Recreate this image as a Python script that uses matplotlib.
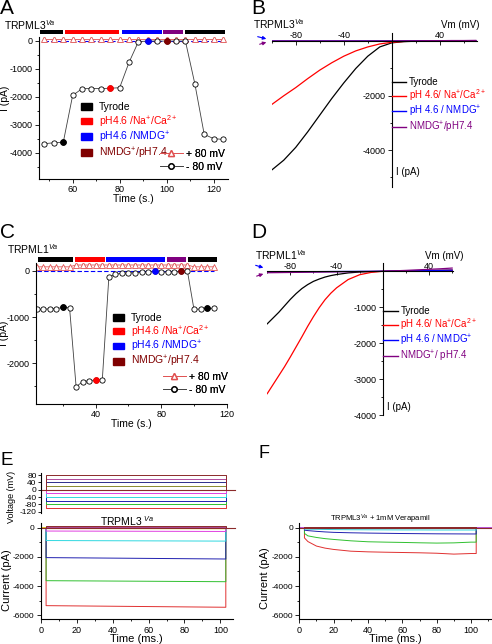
import numpy as np
import matplotlib
matplotlib.use('Agg')
import matplotlib.pyplot as plt
from matplotlib.patches import Patch, FancyArrowPatch
from matplotlib.lines import Line2D
from matplotlib.ticker import MultipleLocator, FixedLocator

plt.rcParams['font.family'] = ['Liberation Sans', 'DejaVu Sans']
plt.rcParams['mathtext.fontset'] = 'custom'
plt.rcParams['mathtext.rm'] = 'Liberation Sans'
plt.rcParams['mathtext.it'] = 'Liberation Sans:italic'
plt.rcParams['axes.linewidth'] = 0.8
plt.rcParams['axes.unicode_minus'] = False

# ---------------- data ----------------
# solutions (legend of A and C)
sol_labels = ['Tyrode', r'pH4.6 /Na$^{+}$/Ca$^{2+}$', r'pH4.6 /NMDG$^{+}$', r'NMDG$^{+}$/pH7.4']
sol_colors = ['black', 'red', 'blue', '#800000']
bar_colors = ['black', 'red', 'blue', '#800080', 'black']

# A: TRPML3 Va time course
t_A = [48, 52, 56, 60, 64, 68, 72, 76, 80, 84, 88, 92, 96, 100, 104, 108, 112, 116, 120, 124]
neg80_A = [-3680, -3645, -3630, -1955, -1715, -1710, -1710, -1700, -1680, -775, -35, -15,
           -15, -15, -15, -15, -1535, -3345, -3500, -3525]
pos80_A = [60, 60, 60, 60, 60, 60, 60, 60, 60, 60, 60, 60, 60, 60, 60, 60, 60, 60, 60, 60]
dots_t_A = [56, 76, 92, 100]
dots_c_A = ['black', 'red', 'blue', '#800000']
bars_A = [(46, 56), (56.7, 79.7), (80.8, 98.1), (98.6, 107.1), (107.8, 125)]

# C: TRPML1 Va time course
t_C = [4, 8, 12, 16, 20, 24, 28, 32, 36, 40, 44, 48, 52, 56, 60, 64, 68, 72, 76, 80,
       84, 88, 92, 96, 100, 104, 108, 112]
neg80_C = [-830, -830, -816, -816, -787, -794, -2505, -2397, -2375, -2361, -2361, -137,
           -72, -50, -43, -36, -29, -22, -7, -22, -22, -14, -7, 0, -830, -823, -808, -808]
pos80_C = [90, 90, 90, 90, 90, 90, 130, 130, 130, 130, 130, 130, 130, 130, 130, 130, 130,
           130, 130, 130, 130, 130, 130, 130, 90, 90, 90, 90]
dots_t_C = [20, 40, 76, 92, 108]
dots_c_C = ['black', 'red', 'blue', '#800000', 'black']
bars_C = [(4.6, 26.3), (27.4, 45.7), (46.3, 82.3), (83.4, 95), (96.6, 113.9)]

# B: TRPML3 Va I-V
iv_labels_B = ['Tyrode', r'pH 4.6/ Na$^{+}$/Ca$^{2+}$', r'pH 4.6 / NMDG$^{+}$', r'NMDG$^{+}$/pH7.4']
iv_colors = ['black', 'red', 'blue', '#800080']
V_B = [-100, -90, -80, -70, -60, -50, -40, -30, -20, -10, 0, 10, 20, 30, 40, 50, 60, 70]
tyr_B = [-4730, -4370, -3900, -3330, -2720, -2110, -1540, -1010, -560, -220, -70, -25, -10,
         0, 0, 0, 0, 0]
ph_B = [-2330, -2010, -1710, -1380, -1070, -800, -560, -365, -220, -110, -50, -20, -5,
        0, 0, 0, 0, 0]
nmdg_B = [0, 0, 0, 0, 0, 0, 0, 0, 0, 0, 0, 0, 0, 5, 5, 10, 10, 10]
ph74_B = [0, 0, 0, 0, 0, 0, 0, 0, 0, 0, 0, 5, 5, 10, 10, 15, 15, 20]

# D: TRPML1 Va I-V
iv_labels_D = ['Tyrode', r'pH 4.6/ Na$^{+}$/Ca$^{2+}$', r'pH 4.6 / NMDG$^{+}$', r'NMDG$^{+}$/ pH7.4']
V_D = [-100, -95, -90, -85, -80, -75, -70, -65, -60, -55, -50, -45, -40, -30, -20, -10,
       0, 10, 20, 30, 40, 50, 60]
tyr_D = [-1460, -1300, -1140, -960, -780, -620, -480, -370, -280, -215, -160, -120, -90,
         -45, -20, -8, 0, 5, 10, 15, 20, 25, 30]
ph_D = [-3400, -3150, -2900, -2650, -2380, -2100, -1820, -1530, -1260, -1010, -790, -610,
        -460, -230, -95, -30, 0, 5, 10, 15, 20, 25, 30]
nmdg_D = [-20, -20, -20, -18, -16, -15, -14, -12, -10, -9, -8, -7, -6, -4, -2, -1, 0, 5,
          10, 15, 20, 25, 30]
ph74_D = [-40, -38, -36, -34, -32, -30, -28, -26, -24, -22, -20, -18, -16, -12, -8, -4,
          0, 12, 25, 40, 55, 70, 90]

# E / F: voltage steps and current traces
V_steps = [80, 60, 40, 20, 0, -20, -40, -60, -80, -100]
trace_colors = ['#8b2a2a', '#b04a9a', '#2e2e8a', '#8a8a2e', '#e6e600', '#e040e0',
                '#30d8e0', '#2020b0', '#30c030', '#e03030']
step_on, step_off = 3, 103
I_E_start = [100, 70, 40, 15, -60, -230, -880, -2050, -3630, -5340]
I_E_end = [100, 70, 40, 15, -70, -260, -920, -2145, -3700, -5450]

t_F = [3, 5, 10, 15, 20, 30, 40, 50, 60, 70, 80, 90, 100, 103]
I_F = [
    [60, 60, 60, 60, 60, 60, 60, 60, 60, 60, 60, 60, 60, 60],
    [40, 40, 40, 40, 40, 40, 40, 40, 40, 40, 40, 40, 40, 40],
    [20, 20, 20, 20, 20, 20, 20, 20, 20, 20, 20, 20, 20, 20],
    [0, 0, 0, 0, 0, 0, 0, 0, 0, 0, 0, 0, 0, 0],
    [-20, -20, -20, -20, -20, -20, -20, -20, -20, -20, -20, -20, -20, -20],
    [-40, -40, -45, -45, -50, -50, -50, -55, -55, -55, -55, -55, -55, -55],
    [-100, -105, -110, -120, -130, -140, -145, -150, -155, -155, -160, -160, -160, -160],
    [-170, -200, -250, -290, -320, -350, -370, -385, -400, -410, -420, -425, -430, -430],
    [-390, -560, -670, -750, -805, -900, -965, -990, -1010, -1035, -1055, -1040, -990, -990],
    [-700, -950, -1260, -1400, -1490, -1610, -1655, -1680, -1700, -1720, -1750, -1810, -1770, -1770],
]

# ---------------- layout ----------------
W, H = 492, 644
fig = plt.figure(figsize=(W / 100, H / 100), dpi=100)


def fx(x):
    return x / W


def fy(y):
    return 1 - y / H


def px_axes(l, t, r, b):
    return fig.add_axes([fx(l), fy(b), (r - l) / W, (b - t) / H])


def style_ticks(ax, size=6.5):
    ax.tick_params(which='major', length=3, width=0.6, labelsize=size, pad=1.5)
    ax.tick_params(which='minor', length=1.6, width=0.6)


def vlabel(x, y, s, size):
    fig.text(fx(x), fy(y), s, fontsize=size, rotation=90, ha='center', va='center')


def time_course(ax, t, neg, pos, dots_t, dots_c, bars, bar_y):
    ax.spines['top'].set_visible(False)
    ax.spines['right'].set_visible(False)
    ax.plot(t, np.zeros(len(t)), color='blue', lw=0.8, dashes=(4, 2))
    ax.plot(t, pos, color='#e05050', lw=0.6, marker='^', ms=4, mfc='white',
            mec='#e05050', mew=0.6)
    ax.plot(t, neg, color='#404040', lw=0.6, marker='o', ms=3.8, mfc='white',
            mec='black', mew=0.6)
    for tt, c in zip(dots_t, dots_c):
        ax.plot(tt, neg[t.index(tt)], marker='o', ms=3.8, color=c, mec=c)
    for (a, b), c in zip(bars, bar_colors):
        ax.broken_barh([(a, b - a)], bar_y, facecolors=c, clip_on=False,
                       transform=ax.get_xaxis_transform())
    style_ticks(ax)


def sol_legend(ax, x, y, spacing):
    handles = [Patch(facecolor=c, edgecolor=c) for c in sol_colors]
    leg = ax.legend(handles, sol_labels, loc='upper left', bbox_to_anchor=(fx(x), fy(y)),
                    bbox_transform=fig.transFigure, frameon=False, fontsize=7.5,
                    borderpad=0, borderaxespad=0, handlelength=1.1, handleheight=0.6,
                    handletextpad=0.6, labelspacing=spacing)
    for txt, c in zip(leg.get_texts(), sol_colors):
        txt.set_color(c)
    ax.add_artist(leg)


def mv_legend(ax, x, y):
    handles = [Line2D([], [], color='#e05050', lw=0.6, marker='^', ms=4, mfc='white', mec='#e05050'),
               Line2D([], [], color='#404040', lw=0.6, marker='o', ms=3.8, mfc='white', mec='black')]
    leg = ax.legend(handles, ['+ 80 mV', '- 80 mV'], loc='upper left',
                    bbox_to_anchor=(fx(x), fy(y)), bbox_transform=fig.transFigure,
                    frameon=False, fontsize=7.5, borderpad=0, borderaxespad=0,
                    handlelength=2.2, handletextpad=0.3, labelspacing=0.25)
    ax.add_artist(leg)


def iv_panel(ax, V, curves, labels, xlim, ylim, yticks, yminor, leg_xy, leg_sp):
    ax.set_xlim(*xlim)
    ax.set_ylim(*ylim)
    ax.spines['left'].set_position(('data', 0))
    ax.spines['top'].set_position(('data', 0))
    ax.spines['right'].set_visible(False)
    ax.spines['bottom'].set_visible(False)
    ax.xaxis.set_ticks_position('top')
    ax.yaxis.set_ticks_position('left')
    ax.set_xticks([-80, -40, 40])
    ax.xaxis.set_minor_locator(FixedLocator([-100, -60, -20, 20, 60]))
    ax.set_yticks(yticks)
    ax.yaxis.set_minor_locator(FixedLocator(yminor))
    ax.tick_params(axis='x', which='both', direction='in')
    style_ticks(ax)
    ax.tick_params(axis='x', pad=0.5)
    ax.patch.set_visible(False)
    for y, c in zip(curves, iv_colors):
        ax.plot(V, y, color=c, lw=0.9)
    handles = [Line2D([], [], color=c, lw=1.0) for c in iv_colors]
    leg = ax.legend(handles, labels, loc='upper left', bbox_to_anchor=(fx(leg_xy[0]), fy(leg_xy[1])),
                    bbox_transform=fig.transFigure, frameon=False, fontsize=7,
                    borderpad=0, borderaxespad=0, handlelength=1.5, handletextpad=0.3,
                    labelspacing=leg_sp)
    for txt, c in zip(leg.get_texts(), iv_colors):
        txt.set_color(c)


def arrow(x0, y0, x1, y1, c):
    fig.add_artist(FancyArrowPatch(
        (fx(x0), fy(y0)), (fx(x1), fy(y1)), transform=fig.transFigure,
        arrowstyle='-|>', mutation_scale=5, color=c, lw=0.8))


# ---- A ----
axA = px_axes(39.3, 37.3, 227.7, 179)
axA.set_xlim(45.8, 126)
axA.set_ylim(-4940, 120)
time_course(axA, t_A, neg80_A, pos80_A, dots_t_A, dots_c_A, bars_A, (1.02, 0.035))
axA.set_xticks([60, 80, 100, 120])
axA.xaxis.set_minor_locator(MultipleLocator(10))
axA.set_yticks([-4000, -3000, -2000, -1000, 0])
axA.yaxis.set_minor_locator(MultipleLocator(500))
axA.set_xlabel('Time (s.)', fontsize=7.5, labelpad=0)
vlabel(5, 98, 'I (pA)', 7.5)
sol_legend(axA, 81, 102, 0.08)
mv_legend(axA, 160, 149)

# ---- C ----
axC = px_axes(36, 263, 226.7, 404)
axC.set_xlim(3.5, 120)
axC.set_ylim(-2880, 173)
time_course(axC, t_C, neg80_C, pos80_C, dots_t_C, dots_c_C, bars_C, (1.009, 0.036))
axC.set_xticks([40, 80, 120])
axC.xaxis.set_minor_locator(MultipleLocator(20))
axC.set_yticks([-2000, -1000, 0])
axC.yaxis.set_minor_locator(MultipleLocator(500))
axC.set_xlabel('Time (s.)', fontsize=7.5, labelpad=0)
vlabel(4, 333, 'I (pA)', 7.5)
sol_legend(axC, 113, 313, 0.0)
mv_legend(axC, 163, 372)

# ---- B ----
axB = px_axes(271.7, 33.3, 477, 186.7)
iv_panel(axB, V_B, [tyr_B, ph_B, nmdg_B, ph74_B], iv_labels_B, (-100, 71), (-5340, 280),
         [-4000, -2000], [-5000, -3000, -1000], (391.7, 77), 0.05)
fig.text(fx(441), fy(25), 'Vm (mV)', fontsize=7, va='center')
fig.text(fx(396), fy(172), 'I (pA)', fontsize=7, va='center')
arrow(255, 36, 269, 39.5, 'blue')
arrow(257, 45, 269, 41.5, '#800080')

# ---- D ----
axD = px_axes(267.2, 263.3, 453.3, 415.3)
iv_panel(axD, V_D, [tyr_D, ph_D, nmdg_D, ph74_D], iv_labels_D, (-100, 61), (-4000, 222),
         [-4000, -3000, -2000, -1000], [-3500, -2500, -1500, -500], (383, 306), 0.05)
fig.text(fx(425), fy(255.7), 'Vm (mV)', fontsize=7, va='center')
fig.text(fx(387), fy(406.7), 'I (pA)', fontsize=7, va='center')
arrow(253, 264.5, 266, 268.5, 'blue')
arrow(254, 277, 266, 273, '#800080')

# ---- E ----
axV = px_axes(40.7, 473, 233, 512.5)
axV.set_xlim(0, 107)
axV.set_ylim(-124, 91)
for v, c in zip(V_steps[::-1], trace_colors[::-1]):
    axV.plot([0, step_on, step_on, step_off, step_off], [0, 0, v, v, 0], color=c, lw=0.7)
axV.plot([0, 108], [0, 0], color='#8b2a2a', lw=0.8, clip_on=False)
for s in ['top', 'right', 'bottom']:
    axV.spines[s].set_visible(False)
axV.set_xticks([])
axV.set_yticks([80, 40, 0, -40, -80, -120])
style_ticks(axV, 6)
axV.tick_params(axis='y', length=2, pad=1)
vlabel(12, 497, 'Voltage (mV)', 6.5)

axE = px_axes(40.7, 523.3, 233, 619.3)
axE.set_xlim(0, 107)
axE.set_ylim(-6275, 300)
for i0, i1, c in zip(I_E_start[::-1], I_E_end[::-1], trace_colors[::-1]):
    axE.plot([0, step_on, step_on, step_off, step_off], [0, 0, i0, i1, 0], color=c, lw=0.7)
axE.plot([0, 108], [0, 0], color='#8b2a2a', lw=0.8, clip_on=False)
axE.spines['top'].set_visible(False)
axE.spines['right'].set_visible(False)
axE.set_xticks([0, 20, 40, 60, 80, 100])
axE.xaxis.set_minor_locator(MultipleLocator(10))
axE.set_yticks([-6000, -4000, -2000, 0])
axE.yaxis.set_minor_locator(MultipleLocator(1000))
style_ticks(axE, 6.5)
axE.tick_params(axis='y', labelsize=6)
axE.set_xlabel('Time (ms.)', fontsize=8, labelpad=-0.5)
vlabel(7, 580, 'Current (pA)', 8)
fig.text(fx(127), fy(521), r'TRPML3 $^{Va}$', fontsize=7.5, ha='center', va='center')

# ---- F ----
axF = px_axes(299.3, 523.3, 492, 619.3)
axF.set_xlim(0, 112.2)
axF.set_ylim(-6275, 300)
for vals, c in zip(I_F[::-1], trace_colors[::-1]):
    axF.plot([0, step_on] + t_F + [step_off, 112.2], [0, 0] + vals + [0, 0], color=c, lw=0.7)
axF.plot([0, 112.2], [0, 0], color='#8b2a2a', lw=0.8)
axF.spines['top'].set_visible(False)
axF.spines['right'].set_visible(False)
axF.set_xticks([0, 20, 40, 60, 80, 100])
axF.xaxis.set_minor_locator(MultipleLocator(10))
axF.set_yticks([-6000, -4000, -2000, 0])
axF.yaxis.set_minor_locator(MultipleLocator(1000))
style_ticks(axF, 6.5)
axF.tick_params(axis='y', labelsize=6)
axF.set_xlabel('Time (ms.)', fontsize=8, labelpad=-0.5)
vlabel(265, 578, 'Current (pA)', 8)
fig.text(fx(380), fy(519), r'TRPML3$^{Va}$ + 1mM Verapamil', fontsize=5.5, ha='center', va='center')

# ---- titles and panel letters ----
fig.text(fx(4), fy(25), r'TRPML3$^{Va}$', fontsize=7.5, va='center')
fig.text(fx(253), fy(24), r'TRPML3$^{Va}$', fontsize=7.5, va='center')
fig.text(fx(7), fy(249), r'TRPML1$^{Va}$', fontsize=7.5, va='center')
fig.text(fx(255), fy(255), r'TRPML1$^{Va}$', fontsize=7.5, va='center')
for letter, x, y, s in [('A', 0, -1, 15), ('B', 251, -1, 15), ('C', 0, 223, 15),
                        ('D', 251, 223, 15), ('E', 0, 452, 13.5), ('F', 259, 445, 13)]:
    fig.text(fx(x), fy(y), letter, fontsize=s, va='top')

fig.savefig('out.png', dpi=100)
